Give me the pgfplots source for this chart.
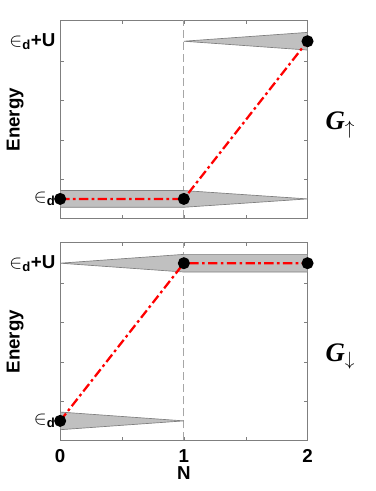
\documentclass[border=0pt]{standalone}
\usepackage{pgfplots}
\pgfplotsset{compat=1.18}
\usepackage{fontspec}
\setmainfont{Liberation Sans}
\newfontfamily\serifG{Liberation Serif}
\definecolor{bandgray}{HTML}{C0C0C0}
\definecolor{edgegray}{HTML}{7F7F7F}

\pgfplotsset{
  levelax/.style={
    width=185pt, height=148pt, scale only axis,
    xmin=0, xmax=2, ymin=-0.125, ymax=1.13,
    xtick={0,0.5,1,1.5,2},
    ytick={0.125,0.375,0.625,0.875}, yticklabels={},
    extra y ticks={0,1},
    extra y tick labels={{${\in}$\textsubscript{d}},{${\in}$\textsubscript{d}+U}},
    extra y tick style={major tick length=0pt},
    tick align=inside, major tick length=2.5pt,
    axis line style={edgegray, line width=0.6pt},
    tick style={edgegray},
    tick label style={font=\fontsize{14}{16}\selectfont\bfseries, black},
    /pgf/number format/assume math mode=true,
    label style={font=\fontsize{14}{16}\selectfont\bfseries},
    ylabel={Energy},
    ylabel style={at={(rel axis cs:-0.182,0.5)}, anchor=center},
    clip=true,
  },
  band/.style={fill=bandgray, draw=edgegray, line width=0.5pt},
  vline/.style={gray!70, line width=0.6pt, dash pattern=on 6pt off 3pt},
  occ/.style={red, line width=1.7pt, dash pattern=on 7pt off 2.5pt on 2pt off 2.5pt,
    mark=*, mark size=3.6pt, mark options={black, solid, fill=black}},
}

\begin{document}
\begin{tikzpicture}
\begin{axis}[levelax, name=top, xticklabels={}]
\addplot[vline] coordinates {(1,-0.2) (1,1.2)};
\addplot[band] coordinates {(0,0.053) (1,0.053) (2,0) (1,-0.053) (0,-0.053)} -- cycle;
\addplot[band] coordinates {(1,1) (2,1.056) (2,0.944)} -- cycle;
\addplot[occ] coordinates {(0,0) (1,0) (2,1)};
\end{axis}
\node[anchor=west, font=\serifG\fontsize{20}{22}\selectfont\bfseries\itshape]
  at ([xshift=10pt,yshift=-4pt]top.east) {G$_{\uparrow}$};

\begin{axis}[levelax, name=bottom, at={(top.south west)}, anchor=north west, yshift=-18pt,
  xticklabels={0,,1,,2}, xlabel={N},
  xticklabel style={yshift=-3pt},
  xlabel style={at={(rel axis cs:0.5,0)}, anchor=north, yshift=-16pt}]
\addplot[vline] coordinates {(1,-0.2) (1,1.2)};
\addplot[band] coordinates {(0,1) (1,1.056) (2,1.056) (2,0.944) (1,0.944)} -- cycle;
\addplot[band] coordinates {(0,0.056) (1,0) (0,-0.056)} -- cycle;
\addplot[occ] coordinates {(0,0) (1,1) (2,1)};
\end{axis}
\node[anchor=west, font=\serifG\fontsize{20}{22}\selectfont\bfseries\itshape]
  at ([xshift=10pt,yshift=-11pt]bottom.east) {G$_{\downarrow}$};

\pgfresetboundingbox
\path ([xshift=-45pt,yshift=15.5pt]top.north west) rectangle ([xshift=50.5pt,yshift=-37.7pt]bottom.south east);
\end{tikzpicture}
\end{document}
